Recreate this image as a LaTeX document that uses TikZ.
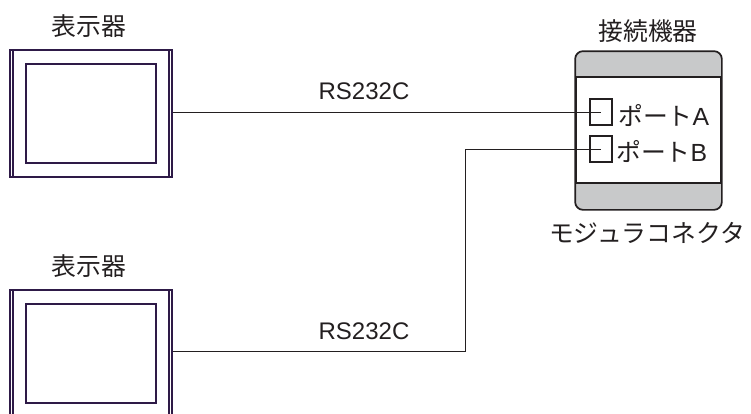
\documentclass[tikz,border=0pt]{standalone}
\usepackage{fontspec}
\setmainfont{Liberation Sans}
\newfontfamily\jpfont{Noto Sans CJK JP}
\definecolor{framecol}{HTML}{2E1A47}
\definecolor{textcol}{HTML}{231F20}
\definecolor{bandcol}{HTML}{C8C9CA}
\tikzset{
  outerbox/.style={draw=framecol,line width=1.3pt,minimum width=121.5pt,minimum height=95.25pt,inner sep=0pt},
  innerbox/.style={draw=framecol,line width=1pt,minimum width=97.5pt,minimum height=74.25pt,inner sep=0pt},
  portbox/.style={draw=textcol,line width=1pt,minimum width=16.5pt,minimum height=19.5pt,inner sep=0pt},
  jplabel/.style={text=textcol,font=\jpfont\fontsize{18.6pt}{20pt}\selectfont,inner sep=0pt},
  latlabel/.style={text=textcol,font=\fontsize{18pt}{20pt}\selectfont,inner sep=0pt},
  wire/.style={draw=textcol,line width=0.7pt}
}
\begin{document}
\begin{tikzpicture}[x=0.75pt,y=-0.75pt]
\useasboundingbox (0,0) rectangle (751,414);
\clip (0,0) rectangle (751,414);

% displays
\node[outerbox] (dispa) at (91,113.5) {};
\node[innerbox] (screena) at (91,113.5) {};
\node[outerbox] (dispb) at (91,353.5) {};
\node[innerbox] (screenb) at (91,353.5) {};
\foreach \d in {dispa,dispb} {
  \draw[framecol,line width=1.1pt] ([xshift=3pt]\d.north west) -- ([xshift=3pt]\d.south west);
  \draw[framecol,line width=1.1pt] ([xshift=-3pt]\d.north east) -- ([xshift=-3pt]\d.south east);
}
\node[jplabel] (labela) at (89,26) {表示器};
\node[jplabel] (labelb) at (89,266) {表示器};

% connected device
\node[draw=textcol,line width=1.3pt,rounded corners=6pt,minimum width=108.75pt,minimum height=117.75pt,inner sep=0pt] (device) at (648.5,130.5) {};
\begin{scope}
\clip[rounded corners=6pt] (device.north west) rectangle (device.south east);
\fill[bandcol] (device.north west) rectangle (722,77);
\fill[bandcol] (576,183) rectangle (device.south east);
\end{scope}
\draw[textcol,line width=1.3pt,rounded corners=6pt] (device.north west) rectangle (device.south east);
\draw[textcol,line width=1.3pt] (576,77) -- (722,77);
\draw[textcol,line width=1.3pt] (576,183) -- (722,183);
\node[jplabel] (devlabel) at (648,31) {接続機器};
\node[jplabel] (modlabel) at (647,233) {モジュラコネクタ};

% ports
\node[portbox] (porta) at (601,112) {};
\node[portbox] (portb) at (601,149) {};
\node[jplabel,anchor=west] (portalabel) at (618,116) {ポート{\fontspec{Liberation Sans}A}};
\node[jplabel,anchor=west] (portblabel) at (616,152) {ポート{\fontspec{Liberation Sans}B}};

% wires
\coordinate (joint) at (465,351);
\draw[wire] (dispa.east |- porta.center) -- (porta.center);
\draw[wire] (dispb.east |- joint) -- (joint) |- (portb.center);
\node[latlabel] (rsa) at (364,91) {RS232C};
\node[latlabel] (rsb) at (364,331) {RS232C};
\end{tikzpicture}
\end{document}
